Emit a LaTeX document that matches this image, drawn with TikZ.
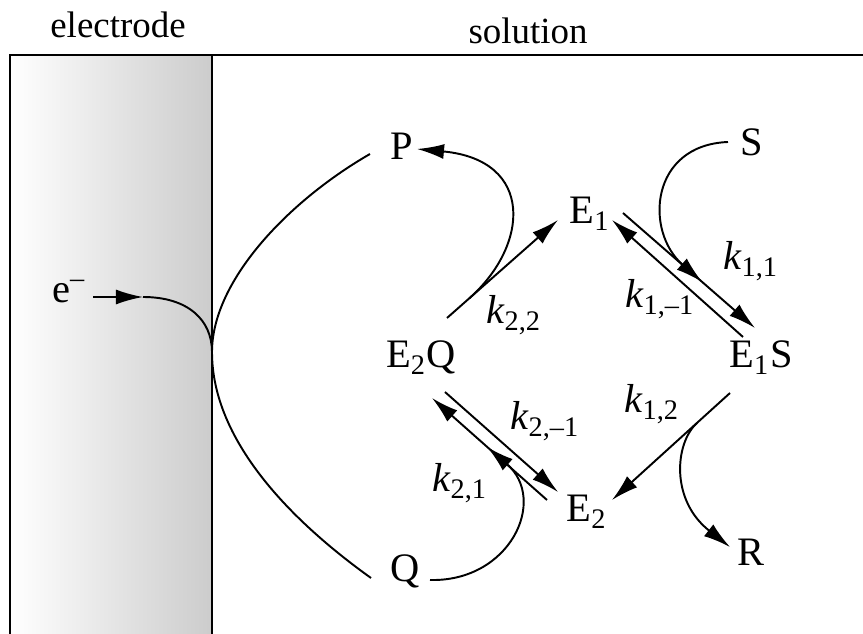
\documentclass[tikz,border=0pt]{standalone}
\usepackage{fontspec}
\setmainfont{Liberation Serif}
\usepackage{tikz}
\usetikzlibrary{arrows.meta}

\tikzset{
  header/.style={anchor=base, inner sep=1pt, font=\fontsize{10.5}{12}\selectfont},
  species/.style={anchor=base, inner sep=1pt, font=\fontsize{11.5}{13}\selectfont},
  rate/.style={anchor=base, inner sep=1pt, font=\fontsize{11.5}{13}\selectfont},
  arrow/.style={-{Latex[length=2.7mm, width=1.5mm]}, line width=0.55pt},
  plain/.style={line width=0.55pt},
  wall/.style={line width=0.7pt},
}

\begin{document}
\begin{tikzpicture}[x=0.01cm, y=-0.01cm]
\useasboundingbox (0,0) rectangle (863,634);

% Electrode and solution
\shade[left color=white, right color=black!20] (10,55) rectangle (212,634);
\draw[wall] (10,634) -- (10,55) -- (863,55);
\draw[wall] (212,55) -- (212,634);
\coordinate (surf) at (212,352);

\node[header] (electrode) at (118,38) {electrode};
\node[header] (solution) at (528,44) {solution};

% Species
\node[species] (elec) at (69,303) {e\textsuperscript{–}};
\node[species] (P) at (402,160) {P};
\node[species] (S) at (752,156) {S};
\node[species] (E1) at (590,224) {E\textsubscript{1}};
\node[species] (E2Q) at (421,368) {E\textsubscript{2}Q};
\node[species] (E1S) at (761,368) {E\textsubscript{1}S};
\node[species] (E2) at (587,522) {E\textsubscript{2}};
\node[species] (R) at (751,566) {R};
\node[species] (Q) at (405,582) {Q};

% Rate constants
\node[rate] (k11) at (751,270) {\textit{k}\textsubscript{1,1}};
\node[rate] (k1m1) at (660,308) {\textit{k}\textsubscript{1,–1}};
\node[rate] (k22) at (514,324) {\textit{k}\textsubscript{2,2}};
\node[rate] (k12) at (652,413) {\textit{k}\textsubscript{1,2}};
\node[rate] (k2m1) at (545,430) {\textit{k}\textsubscript{2,–1}};
\node[rate] (k21) at (460,492) {\textit{k}\textsubscript{2,1}};

% Electron transfer at the electrode
\draw[arrow] ([shift={(24,-6)}]elec.base) -- ++(50,0) coordinate (etip);
\draw[plain] (etip) .. controls +(45,0) and +(0,-32) .. (surf);
\draw[plain] ([shift={(-32,-6)}]P.base) .. controls +(-80,46) and +(0,-72) .. (surf)
  .. controls +(0,88) and +(-81,-58) .. ([shift={(-34,-4)}]Q.base);

% Cycle
\draw[arrow] ([shift={(33,-11)}]E1.base) -- coordinate[pos=0.6] (Sjoin) ([shift={(-6,-40)}]E1S.base);
\draw[arrow] ([shift={(-18,-31)}]E1S.base) -- ([shift={(22,-4)}]E1.base);
\draw[arrow] ([shift={(-31,25)}]E1S.base) -- coordinate[pos=0.28] (Rjoin) ([shift={(25,-22)}]E2.base);
\draw[arrow] ([shift={(24,24)}]E2Q.base) -- ([shift={(-29,-30)}]E2.base);
\draw[arrow] ([shift={(-40,-22)}]E2.base) -- coordinate[pos=0.52] (Qjoin) ([shift={(11,30)}]E2Q.base);
\draw[arrow] ([shift={(26,-50)}]E2Q.base) -- coordinate[pos=0.2] (Pjoin) ([shift={(-32,-4)}]E1.base);

% Substrates and products
\draw[arrow] ([shift={(-24,-14)}]S.base) .. controls +(-78,3) and +(-58,-51) .. (Sjoin);
\draw[arrow] (Rjoin) .. controls +(-22,20) and +(-60,-47) .. ([shift={(-21,-19)}]R.base);
\draw[arrow] ([shift={(25,-2)}]Q.base) .. controls +(80,2) and +(61,53) .. (Qjoin);
\draw[arrow] (Pjoin) .. controls +(60,-53) and +(118,11) .. ([shift={(15,-11)}]P.base);

\end{tikzpicture}
\end{document}
